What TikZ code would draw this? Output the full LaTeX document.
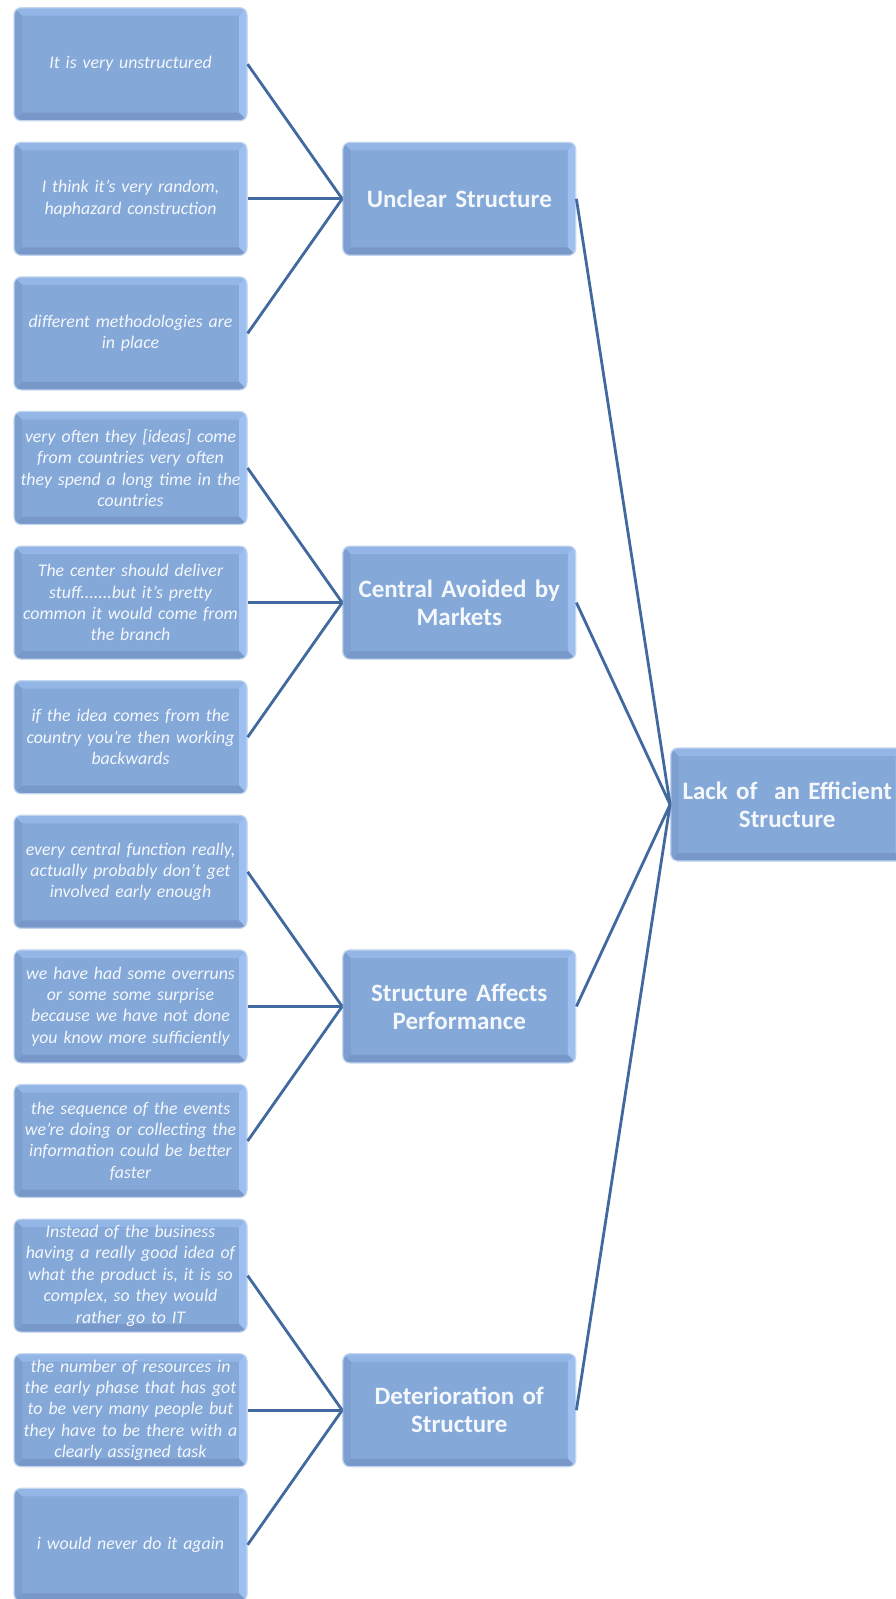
\documentclass[tikz,border=0pt]{standalone}
\usepackage{fontspec}
\setmainfont{Carlito}
\usetikzlibrary{calc}
\definecolor{basec}{HTML}{84A8D8}
\definecolor{topc}{HTML}{93B6E7}
\definecolor{rightc}{HTML}{9DC0F1}
\definecolor{botc}{HTML}{7898C9}
\definecolor{leftc}{HTML}{7D9FD0}
\definecolor{edgec}{HTML}{C3D6EF}
\definecolor{linec}{HTML}{41689F}
\definecolor{txtc}{HTML}{F4F7FC}
\tikzset{
  bevelbox/.style={rounded corners=7pt, fill=basec, draw=edgec, line width=1.2pt,
    minimum width=233pt, minimum height=113pt, inner sep=0pt, align=center,
    text=txtc,
    path picture={
      \coordinate (bnw) at (path picture bounding box.north west);
      \coordinate (bne) at (path picture bounding box.north east);
      \coordinate (bsw) at (path picture bounding box.south west);
      \coordinate (bse) at (path picture bounding box.south east);
      \fill[topc, sharp corners] (bnw) -- (bne) -- ($(bne)+(-8pt,-8pt)$) -- ($(bnw)+(8pt,-8pt)$) -- cycle;
      \fill[rightc, sharp corners] (bne) -- (bse) -- ($(bse)+(-8pt,8pt)$) -- ($(bne)+(-8pt,-8pt)$) -- cycle;
      \fill[botc, sharp corners] (bsw) -- (bse) -- ($(bse)+(-8pt,8pt)$) -- ($(bsw)+(8pt,8pt)$) -- cycle;
      \fill[leftc, sharp corners] (bnw) -- (bsw) -- ($(bsw)+(8pt,8pt)$) -- ($(bnw)+(8pt,-8pt)$) -- cycle;
    }},
  leaf/.style={bevelbox, text width=228pt, font=\fontsize{17.8pt}{21.4pt}\selectfont\itshape},
  theme/.style={bevelbox, text width=228pt, font=\fontsize{25pt}{28pt}\selectfont\bfseries},
  link/.style={draw=linec, line width=2.8pt}
}
\begin{document}
\begin{tikzpicture}[x=1pt, y=-1pt]
\useasboundingbox (0,0) rectangle (896,1599);
% leaves
\node[leaf] (l1) at (130.5,64.2) {It is very unstructured};
\node[leaf] (l2) at (130.5,198.8) {I think it's very random,\\haphazard construction};
\node[leaf] (l3) at (130.5,333.4) {different methodologies are\\in place};
\node[leaf] (l4) at (130.5,468.0) {very often they [ideas] come\\from countries very often\\they spend a long time in the\\countries};
\node[leaf] (l5) at (130.5,602.6) {The center should deliver\\stuff.......but it's pretty\\common it would come from\\the branch};
\node[leaf] (l6) at (130.5,737.2) {if the idea comes from the\\country you're then working\\backwards};
\node[leaf] (l7) at (130.5,871.8) {every central function really,\\actually probably don't get\\involved early enough};
\node[leaf] (l8) at (130.5,1006.4) {we have had some overruns\\or some some surprise\\because we have not done\\you know more sufficiently};
\node[leaf] (l9) at (130.5,1141.0) {the sequence of the events\\we're doing or collecting the\\information could be better\\faster};
\node[leaf] (l10) at (130.5,1275.6) {Instead of the business\\having a really good idea of\\what the product is, it is so\\complex, so they would\\rather go to IT};
\node[leaf] (l11) at (130.5,1410.2) {the number of resources in\\the early phase that has got\\to be very many people but\\they have to be there with a\\clearly assigned task};
\node[leaf] (l12) at (130.5,1544.8) {i would never do it again};
% themes
\node[theme] (t1) at (459.3,198.8) {Unclear Structure};
\node[theme] (t2) at (459.3,602.6) {Central Avoided by\\Markets};
\node[theme] (t3) at (459.3,1006.4) {Structure Affects\\Performance};
\node[theme] (t4) at (459.3,1410.2) {Deterioration of\\Structure};
% root
\node[theme] (root) at (787.2,804.5) {Lack of\ \ an Efficient\\Structure};
% links
\foreach \l/\t in {l1/t1,l2/t1,l3/t1,l4/t2,l5/t2,l6/t2,l7/t3,l8/t3,l9/t3,l10/t4,l11/t4,l12/t4}
  \draw[link] (\l.east) -- (\t.west);
\foreach \t in {t1,t2,t3,t4}
  \draw[link] (\t.east) -- (root.west);
\end{tikzpicture}
\end{document}
